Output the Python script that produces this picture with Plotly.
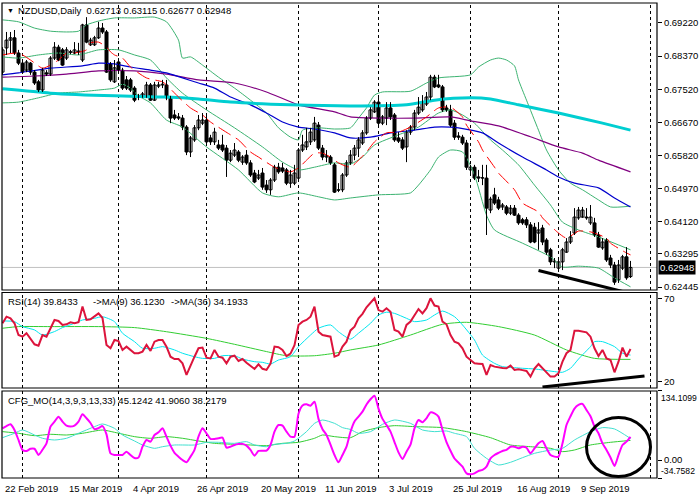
import plotly.graph_objects as go

# ---------------- data ----------------
title_symbol = "NZDUSD,Daily"
last_ohlc = [0.62713, 0.63115, 0.62677, 0.62948]

opens = [0.6796,0.6858,0.6878,0.6884,0.6845,0.6819,0.6801,0.6819,0.6796,0.6771,
         0.6750,0.6794,0.6791,0.6832,0.6860,0.6853,0.6832,0.6848,0.6845,0.6848,
         0.6827,0.6917,0.6866,0.6866,0.6884,0.6909,0.6899,0.6817,0.6771,0.6822,
         0.6801,0.6776,0.6776,0.6755,0.6735,0.6732,0.6732,0.6763,0.6724,0.6760,
         0.6763,0.6763,0.6730,0.6686,0.6681,0.6678,0.6655,0.6591,0.6622,0.6653,
         0.6665,0.6673,0.6627,0.6617,0.6609,0.6609,0.6601,0.6570,0.6583,0.6591,
         0.6565,0.6583,0.6563,0.6537,0.6524,0.6537,0.6506,0.6494,0.6519,0.6552,
         0.6550,0.6545,0.6511,0.6511,0.6524,0.6596,0.6604,0.6617,0.6622,0.6660,
         0.6601,0.6578,0.6578,0.6558,0.6494,0.6494,0.6532,0.6563,0.6583,0.6601,
         0.6614,0.6640,0.6678,0.6694,0.6719,0.6665,0.6678,0.6704,0.6686,0.6627,
         0.6622,0.6604,0.6642,0.6655,0.6691,0.6699,0.6714,0.6732,0.6783,0.6763,
         0.6758,0.6704,0.6699,0.6665,0.6632,0.6629,0.6614,0.6545,0.6552,0.6527,
         0.6524,0.6524,0.6442,0.6481,0.6468,0.6450,0.6450,0.6434,0.6447,0.6429,
         0.6417,0.6417,0.6404,0.6398,0.6383,0.6396,0.6365,0.6340,0.6309,0.6293,
         0.6309,0.6334,0.6360,0.6383,0.6422,0.6424,0.6424,0.6409,0.6409,0.6378,
         0.6345,0.6365,0.6319,0.6301,0.6263,0.6293,0.6322,0.62713]
highs = [0.6860,0.6899,0.6899,0.6904,0.6853,0.6827,0.6827,0.6822,0.6801,0.6776,
         0.6807,0.6801,0.6837,0.6873,0.6866,0.6858,0.6860,0.6853,0.6873,0.6871,
         0.6920,0.6937,0.6884,0.6889,0.6925,0.6922,0.6904,0.6822,0.6827,0.6832,
         0.6807,0.6786,0.6781,0.6760,0.6740,0.6745,0.6771,0.6768,0.6771,0.6771,
         0.6776,0.6776,0.6735,0.6699,0.6691,0.6686,0.6660,0.6632,0.6660,0.6686,
         0.6691,0.6691,0.6635,0.6653,0.6622,0.6635,0.6609,0.6596,0.6614,0.6596,
         0.6583,0.6596,0.6570,0.6545,0.6545,0.6550,0.6519,0.6524,0.6558,0.6563,
         0.6563,0.6550,0.6545,0.6558,0.6601,0.6635,0.6653,0.6653,0.6681,0.6668,
         0.6609,0.6596,0.6583,0.6563,0.6511,0.6537,0.6570,0.6596,0.6609,0.6629,
         0.6647,0.6683,0.6706,0.6724,0.6730,0.6686,0.6719,0.6719,0.6691,0.6642,
         0.6629,0.6647,0.6660,0.6699,0.6732,0.6737,0.6745,0.6789,0.6789,0.6789,
         0.6763,0.6712,0.6712,0.6673,0.6642,0.6635,0.6622,0.6558,0.6558,0.6545,
         0.6558,0.6558,0.6476,0.6499,0.6476,0.6460,0.6455,0.6455,0.6455,0.6434,
         0.6422,0.6424,0.6411,0.6409,0.6411,0.6404,0.6370,0.6345,0.6319,0.6319,
         0.6345,0.6370,0.6388,0.6447,0.6450,0.6450,0.6447,0.6455,0.6422,0.6386,
         0.6370,0.6370,0.6327,0.6309,0.6314,0.6327,0.6347,0.63115]
lows = [0.6789,0.6840,0.6845,0.6840,0.6814,0.6794,0.6796,0.6789,0.6763,0.6745,
        0.6745,0.6786,0.6786,0.6827,0.6824,0.6812,0.6827,0.6842,0.6842,0.6840,
        0.6822,0.6870,0.6863,0.6863,0.6881,0.6894,0.6794,0.6771,0.6768,0.6796,
        0.6750,0.6750,0.6745,0.6719,0.6724,0.6730,0.6730,0.6722,0.6722,0.6755,
        0.6755,0.6724,0.6665,0.6673,0.6673,0.6647,0.6583,0.6578,0.6617,0.6647,
        0.6660,0.6614,0.6609,0.6609,0.6596,0.6591,0.6527,0.6565,0.6578,0.6565,
        0.6558,0.6558,0.6527,0.6511,0.6519,0.6494,0.6486,0.6481,0.6514,0.6535,
        0.6537,0.6506,0.6499,0.6506,0.6519,0.6591,0.6596,0.6609,0.6617,0.6596,
        0.6570,0.6565,0.6558,0.6486,0.6488,0.6488,0.6527,0.6558,0.6570,0.6578,
        0.6609,0.6635,0.6673,0.6691,0.6660,0.6660,0.6660,0.6673,0.6617,0.6614,
        0.6596,0.6565,0.6635,0.6647,0.6686,0.6694,0.6709,0.6724,0.6755,0.6755,
        0.6694,0.6694,0.6655,0.6622,0.6622,0.6609,0.6545,0.6532,0.6519,0.6514,
        0.6506,0.6378,0.6434,0.6455,0.6442,0.6442,0.6429,0.6429,0.6427,0.6404,
        0.6404,0.6396,0.6357,0.6357,0.6340,0.6352,0.6327,0.6301,0.6293,0.6288,
        0.6288,0.6332,0.6355,0.6378,0.6417,0.6422,0.6417,0.6404,0.6373,0.6345,
        0.6340,0.6309,0.6293,0.6250,0.6255,0.6288,0.6263,0.62677]
closes = [0.6853,0.6878,0.6884,0.6845,0.6819,0.6796,0.6822,0.6796,0.6768,0.6750,
          0.6801,0.6791,0.6832,0.6860,0.6827,0.6814,0.6853,0.6847,0.6853,0.6850,
          0.6917,0.6873,0.6878,0.6884,0.6909,0.6899,0.6796,0.6776,0.6807,0.6801,
          0.6755,0.6755,0.6750,0.6724,0.6732,0.6740,0.6763,0.6724,0.6763,0.6763,
          0.6765,0.6730,0.6678,0.6678,0.6678,0.6655,0.6591,0.6627,0.6653,0.6673,
          0.6673,0.6617,0.6617,0.6642,0.6601,0.6596,0.6570,0.6588,0.6596,0.6570,
          0.6578,0.6563,0.6532,0.6514,0.6532,0.6501,0.6494,0.6519,0.6552,0.6540,
          0.6542,0.6511,0.6532,0.6537,0.6596,0.6609,0.6617,0.6642,0.6665,0.6601,
          0.6578,0.6581,0.6563,0.6488,0.6493,0.6532,0.6563,0.6583,0.6601,0.6622,
          0.6640,0.6678,0.6699,0.6719,0.6665,0.6681,0.6704,0.6681,0.6622,0.6619,
          0.6601,0.6642,0.6655,0.6691,0.6706,0.6719,0.6732,0.6783,0.6758,0.6758,
          0.6699,0.6699,0.6660,0.6629,0.6629,0.6614,0.6552,0.6552,0.6524,0.6524,
          0.6525,0.6447,0.6470,0.6460,0.6447,0.6455,0.6434,0.6447,0.6429,0.6409,
          0.6409,0.6404,0.6360,0.6360,0.6391,0.6360,0.6334,0.6309,0.6311,0.6309,
          0.6340,0.6360,0.6373,0.6424,0.6442,0.6442,0.6422,0.6424,0.6378,0.6347,
          0.6360,0.6314,0.6301,0.6257,0.6301,0.6322,0.6268,0.62948]

date_label_bars = [0, 16, 32, 48, 64, 80, 96, 112, 128, 144]
date_labels = ["22 Feb 2019", "15 Mar 2019", "4 Apr 2019", "26 Apr 2019", "20 May 2019",
               "11 Jun 2019", "3 Jul 2019", "25 Jul 2019", "16 Aug 2019", "9 Sep 2019"]
grid_bars = [5, 29, 51, 74, 94, 117, 139, 162]
price_ticks = [0.69220, 0.68370, 0.67520, 0.66670, 0.65820, 0.64970, 0.64120, 0.63295, 0.62445]

# main-panel indicator lines
ma200_bar = [0,12,28,41,49,57,72,87,101,108,117,122,129,139,150,157]
ma200_val = [0.6753,0.6742,0.6735,0.6732,0.6727,0.6719,0.6712,0.6709,0.6712,0.6724,
             0.6730,0.6727,0.6712,0.6691,0.6665,0.6647]
ma_blue_bar = [0,4,12,20,24,28,32,37,41,45,49,53,57,62,66,70,74,78,83,87,92,97,103,108,
               112,114,120,124,130,136,139,143,149,153,157]
ma_blue_val = [0.6789,0.6794,0.6806,0.6812,0.6819,0.6817,0.6809,0.6801,0.6794,0.6781,
               0.6768,0.6755,0.6732,0.6712,0.6691,0.6668,0.6655,0.6650,0.6640,0.6627,
               0.6629,0.6640,0.6647,0.6655,0.6655,0.6653,0.6640,0.6614,0.6578,0.6545,
               0.6527,0.6511,0.6499,0.6473,0.6450]
ma_purple_bar = [0,8,16,24,33,41,49,58,66,74,83,87,95,103,112,117,124,132,139,145,149,157]
ma_purple_val = [0.6783,0.6786,0.6791,0.6799,0.6799,0.6791,0.6776,0.6768,0.6745,0.6712,
                 0.6694,0.6681,0.6678,0.6678,0.6681,0.6671,0.6658,0.6630,0.6604,0.6588,
                 0.6570,0.6540]
ma_red_bar = [0,4,7,10,12,14,16,18,21,22,24,26,27,28,30,32,36,40,41,44,47,50,52,57,59,62,
              64,68,72,74,76,78,80,82,84,87,89,91,93,96,99,102,106,109,112,115,116,119,120,
              123,124,128,130,134,135,139,141,144,147,148,151,152,156,157]
ma_red_val = [0.6840,0.6845,0.6827,0.6806,0.6814,0.6827,0.6845,0.6845,0.6853,0.6871,
              0.6873,0.6860,0.6848,0.6840,0.6832,0.6809,0.6781,0.6771,0.6763,0.6732,
              0.6704,0.6686,0.6668,0.6635,0.6622,0.6591,0.6578,0.6552,0.6540,0.6550,
              0.6570,0.6588,0.6588,0.6578,0.6563,0.6552,0.6570,0.6591,0.6617,0.6640,
              0.6642,0.6655,0.6681,0.6704,0.6706,0.6681,0.6660,0.6617,0.6596,0.6552,
              0.6537,0.6494,0.6460,0.6437,0.6422,0.6383,0.6370,0.6388,0.6386,0.6383,
              0.6370,0.6357,0.6332,0.6327]
bb_up_bar = [0,4,8,12,16,19,21,24,28,33,38,41,44,45,47,50,54,58,62,66,69,72,74,75,79,83,
             87,89,91,93,95,102,106,109,117,119,122,124,126,128,129,131,134,136,139,142,
             145,149,152,157]
bb_up_val = [0.6930,0.6925,0.6909,0.6901,0.6899,0.6901,0.6917,0.6927,0.6935,0.6935,
             0.6937,0.6925,0.6878,0.6832,0.6835,0.6814,0.6783,0.6755,0.6724,0.6691,
             0.6653,0.6629,0.6622,0.6647,0.6653,0.6650,0.6653,0.6678,0.6704,0.6737,
             0.6745,0.6747,0.6768,0.6781,0.6789,0.6809,0.6827,0.6832,0.6827,0.6812,
             0.6776,0.6724,0.6647,0.6596,0.6545,0.6511,0.6494,0.6468,0.6450,0.6452]
bb_mid_bar = [0,4,9,14,19,24,29,33,37,41,45,51,58,65,70,74,78,83,87,90,93,99,104,109,112,
              115,118,122,125,129,133,137,140,144,149,157]
bb_mid_val = [0.6835,0.6832,0.6840,0.6845,0.6840,0.6853,0.6853,0.6840,0.6827,0.6781,
              0.6742,0.6699,0.6653,0.6604,0.6565,0.6545,0.6552,0.6563,0.6560,0.6578,
              0.6609,0.6635,0.6655,0.6691,0.6699,0.6686,0.6665,0.6622,0.6596,0.6558,
              0.6506,0.6455,0.6411,0.6391,0.6373,0.6340]
bb_low_bar = [0,4,9,14,19,24,28,30,32,34,37,41,45,51,59,65,69,74,79,83,87,94,102,104,107,
              109,112,115,118,121,123,130,137,140,144,149,153,157]
bb_low_val = [0.6717,0.6719,0.6730,0.6742,0.6745,0.6750,0.6755,0.6765,0.6755,0.6735,
              0.6717,0.6673,0.6655,0.6604,0.6545,0.6486,0.6476,0.6486,0.6476,0.6468,
              0.6473,0.6481,0.6486,0.6506,0.6545,0.6578,0.6596,0.6591,0.6532,0.6429,
              0.6391,0.6357,0.6322,0.6296,0.6298,0.6293,0.6268,0.6245]
trend_main_bar = [134, 157]
trend_main_val = [0.6287, 0.6228]

# RSI panel
rsi_title = ["RSI(14) 39.8433", "->MA(9) 36.1230", "->MA(36) 34.1933"]
rsi_vals = [55.3,59.3,58.3,55.3,48.2,47.2,49.3,46.2,42.6,41.8,
            48.2,47.2,52.3,57.3,56.7,54.3,54.7,55.9,55.3,56.0,
            65.4,57.3,57.7,59.3,61.3,58.5,42.2,40.2,45.2,44.5,
            39.2,41.2,39.2,37.2,37.2,38.2,42.2,38.6,44.2,45.2,
            45.2,41.2,35.1,33.7,33.7,31.1,24.1,30.1,35.1,40.2,
            40.6,34.5,34.1,39.2,35.1,34.5,31.1,35.1,35.7,32.5,
            33.7,31.5,29.5,27.7,30.5,27.8,27.1,31.0,41.2,40.8,
            39.2,35.5,37.0,42.0,54.3,56.3,57.3,59.3,65.4,50.2,
            48.2,47.5,47.2,35.1,36.1,41.2,44.2,51.0,53.3,58.3,
            61.0,65.0,67.4,70.4,63.3,62.3,64.4,62.3,51.3,50.3,
            47.2,54.3,56.3,60.3,63.9,61.3,64.4,70.4,66.0,65.4,
            56.3,54.7,48.2,44.2,43.2,40.2,35.1,33.1,31.1,30.9,
            30.7,24.1,30.1,29.1,28.5,28.3,28.1,29.7,27.1,27.5,
            27.0,26.5,23.1,28.0,30.7,28.1,25.1,23.1,23.1,25.1,
            32.1,37.2,39.2,50.8,50.8,50.3,49.8,47.2,40.2,35.5,
            39.2,34.1,33.1,25.7,32.1,40.6,35.1,39.8]
rsi_ma9_bar = [0,3,5,8,10,13,15,18,20,23,25,28,30,33,35,38,40,43,45,48,50,53,55,58,60,63,
               65,67,69,72,74,77,79,82,84,87,89,92,94,96,98,101,103,106,108,110,113,115,
               118,120,123,125,128,130,133,135,138,140,142,144,147,148,150,153,155,157]
rsi_ma9_val = [56.7,56.3,53.3,51.3,48.2,50.3,52.7,55.3,57.3,58.3,
               59.3,56.3,49.3,44.2,40.2,40.2,41.2,39.2,37.2,35.1,
               34.1,34.1,35.7,35.7,33.7,32.1,31.7,30.7,33.1,35.1,
               41.2,48.2,52.3,54.3,50.2,45.7,49.3,55.3,60.3,62.0,
               61.3,58.3,56.3,57.3,60.3,62.7,59.3,54.3,45.2,36.1,
               31.1,29.1,28.5,28.1,27.7,27.1,26.1,25.7,28.1,33.7,
               41.2,44.2,44.2,41.2,37.2,36.1]
rsi_ma36_bar = [0,4,12,24,33,41,51,58,66,71,78,83,87,94,102,110,116,124,133,141,148,157]
rsi_ma36_val = [52.3,53.3,53.3,53.3,52.7,50.2,46.2,42.6,38.2,35.7,35.7,37.2,39.2,42.2,
                48.2,54.7,55.9,53.3,48.2,39.2,34.1,33.5]
rsi_levels = [70, 20]
trend_rsi_bar = [135, 160.5]
trend_rsi_val = [16.8, 23.4]

# CFG_MO panel
mo_title = "CFG_MO(14,3,9,3,13,33) 45.1242 41.9060 38.2179"
mo_max, mo_min = 134.1099, -34.7582
mo_vals = [61.6,66.0,69.4,58.4,39.0,19.6,17.7,22.0,22.0,10.0,
           20.0,32.5,64.9,74.6,84.3,74.6,66.8,65.0,67.0,74.6,
           88.8,81.1,72.0,60.0,62.0,66.0,50.0,13.1,10.0,10.0,
           10.0,16.4,10.0,4.0,5.0,26.0,39.0,35.8,48.7,53.9,
           61.6,45.5,28.0,14.0,6.7,0.2,-4.3,6.7,20.0,45.5,
           61.6,52.0,41.0,41.0,42.3,43.5,24.1,26.0,29.3,31.0,
           31.5,28.0,19.6,8.6,17.7,18.3,18.3,29.3,55.2,68.1,
           66.8,55.2,45.5,45.5,90.0,106.0,108.2,105.6,113.4,80.0,
           60.0,48.7,30.0,9.9,-4.3,9.9,26.0,55.0,75.0,84.3,
           94.0,108.0,118.0,125.1,100.0,80.0,68.0,55.2,35.0,15.0,
           2.1,16.4,30.0,61.6,77.8,73.3,81.1,92.7,90.8,84.3,
           58.4,35.0,18.0,3.0,-5.0,-12.8,-25.7,-27.6,-25.7,-21.2,
           -19.2,-12.8,3.4,9.9,14.0,17.7,20.0,26.0,26.0,22.8,
           26.0,24.0,13.1,22.8,32.5,37.1,22.8,9.9,6.7,6.7,
           32.5,68.1,85.0,100.0,107.0,108.9,97.2,85.0,65.0,52.0,
           32.5,19.6,5.0,-11.5,9.9,29.3,35.8,45.1]
mo_sig_bar = [0,3,5,8,10,13,16,19,23,25,28,30,33,35,38,40,43,45,48,51,54,58,61,63,66,68,
              71,73,76,78,80,83,85,87,89,92,95,98,102,105,108,111,113,116,118,121,124,127,
              130,133,137,140,143,147,150,153,157]
mo_sig_val = [43.5,52,58.4,48.7,42.3,39,42.3,52,64.9,70.1,
              61.6,48.7,37.1,29.3,22.8,26,29.3,29.3,29.3,34.5,
              34.5,32.5,35.8,29.3,26,30.6,32.5,37.1,55.2,71.3,
              77.8,71.3,63,59.4,52,55.2,69.4,77.8,71.3,58.4,
              55.2,56.5,52,45.5,22.8,3.4,-9.5,-4.3,4.7,13.1,
              19.6,22.8,39,55.2,63,60.4,41.9]
mo_slow_bar = [0,4,8,12,16,20,25,28,33,37,41,45,49,53,58,62,66,70,74,78,80,83,87,90,94,98,
               103,110,116,122,127,132,137,140,143,147,152,157]
mo_slow_val = [55.2,52,47.4,50,48.7,52,58.4,53.9,45.5,42.3,
               45.5,42.3,37.1,32.5,30.6,29.3,28,32.5,34.5,42.3,
               48.7,45.5,43.5,55.2,63,66.8,64.9,63,55.2,43.5,
               29.3,26,22.8,16.4,19.6,29.3,34.5,38.2]
circle_bar = [146, 162]
circle_val = [-31.8, 82.7]

# ---------------- figure ----------------
FONT = "Liberation Sans, Arial, sans-serif"
W, H = 700, 500
ML, MR, MT, MB = 2, 43, 3, 22
PW = W - ML - MR
X_RANGE = [-0.125, 163.625]
D_MAIN = [0.3958, 1.0]
D_RSI = [0.1895, 0.3905]
D_MO = [0.0, 0.1832]
Y_MAIN = [0.62369, 0.69733]
Y_RSI = [16.2, 73.9]

fig = go.Figure()


def add_line(xs, ys, color, width, ax="", dash=None, shape="spline"):
    fig.add_trace(go.Scatter(
        x=xs, y=ys, mode="lines",
        line=dict(color=color, width=width, dash=dash, shape=shape,
                  smoothing=0.6 if shape == "spline" else None),
        xaxis="x" + ax, yaxis="y" + ax, hoverinfo="skip", showlegend=False))


# main panel indicators
add_line(bb_up_bar, bb_up_val, "#3cb371", 1)
add_line(bb_mid_bar, bb_mid_val, "#3cb371", 1)
add_line(bb_low_bar, bb_low_val, "#3cb371", 1)
add_line(ma_purple_bar, ma_purple_val, "#800080", 1.2)
add_line(ma_blue_bar, ma_blue_val, "#0000cd", 1.2)
add_line(ma200_bar, ma200_val, "#00ced1", 3)
add_line(ma_red_bar, ma_red_val, "#ff0000", 1, dash="14px,6px")

# candles
bars = list(range(len(closes)))
wx, wy = [], []
for i in bars:
    wx += [i, i, None]
    wy += [lows[i], highs[i], None]
add_line(wx, wy, "black", 1, shape="linear")

min_body = 0.00004
for bull in (True, False):
    idx = [i for i in bars if (closes[i] >= opens[i]) == bull]
    base = [min(opens[i], closes[i]) for i in idx]
    hgt = [max(abs(closes[i] - opens[i]), min_body) for i in idx]
    fig.add_trace(go.Bar(
        x=idx, y=hgt, base=base, width=0.75,
        marker=dict(color="white" if bull else "black",
                    line=dict(color="black", width=1)),
        xaxis="x", yaxis="y", hoverinfo="skip", showlegend=False))

add_line(trend_main_bar, trend_main_val, "black", 3, shape="linear")

# RSI panel
add_line(rsi_ma36_bar, rsi_ma36_val, "#32cd32", 1, ax="2")
add_line(rsi_ma9_bar, rsi_ma9_val, "#00e5ee", 1, ax="2")
add_line(bars, rsi_vals, "#dc143c", 2, ax="2", shape="linear")
add_line(trend_rsi_bar, trend_rsi_val, "black", 3, ax="2", shape="linear")

# MO panel
add_line(mo_slow_bar, mo_slow_val, "#32cd32", 1, ax="3")
add_line(mo_sig_bar, mo_sig_val, "#40e0d0", 1, ax="3")
add_line(bars, mo_vals, "#ff00ff", 2, ax="3")

shapes = []
# current price line
shapes.append(dict(type="line", xref="x domain", yref="y", x0=0, x1=1,
                   y0=closes[-1], y1=closes[-1], line=dict(color="#c0c0c0", width=1),
                   layer="below"))
# vertical grid lines and panel frames
for ax in ("", "2", "3"):
    for g in grid_bars:
        shapes.append(dict(type="line", xref="x" + ax, yref="y%s domain" % ax,
                           x0=g, x1=g, y0=0, y1=1,
                           line=dict(color="black", width=1, dash="3px,3px"),
                           layer="below"))
    shapes.append(dict(type="rect", xref="x%s domain" % ax, yref="y%s domain" % ax,
                       x0=0, x1=1, y0=0, y1=1, line=dict(color="black", width=1.2)))
# circle in MO panel
shapes.append(dict(type="circle", xref="x3", yref="y3",
                   x0=circle_bar[0], x1=circle_bar[1], y0=circle_val[0], y1=circle_val[1],
                   line=dict(color="black", width=3)))


def px_x(p):
    return (p - ML) / PW


def px_y(p):
    return (H - MB - p) / (H - MT - MB)


ann = []
tfont = dict(family=FONT, size=9.5, color="black")
sfont = dict(family=FONT, size=8.6, color="black")
ann.append(dict(xref="paper", yref="paper", x=px_x(5), y=px_y(10), text="▼",
                showarrow=False, xanchor="left", yanchor="middle",
                font=dict(family=FONT, size=7, color="black")))
ann.append(dict(xref="paper", yref="paper", x=px_x(16), y=px_y(10),
                text=title_symbol + "  " + " ".join("%.5f" % v for v in last_ohlc),
                showarrow=False, xanchor="left", yanchor="middle", font=tfont))
for t, xp in zip(rsi_title, (6, 91, 169)):
    ann.append(dict(xref="paper", yref="paper", x=px_x(xp), y=px_y(301), text=t,
                    showarrow=False, xanchor="left", yanchor="middle", font=tfont))
ann.append(dict(xref="paper", yref="paper", x=px_x(6), y=px_y(400), text=mo_title,
                showarrow=False, xanchor="left", yanchor="middle", font=tfont))
for b, lab in zip(date_label_bars, date_labels):
    ann.append(dict(xref="x3", yref="paper", x=b, y=px_y(489), text=lab,
                    showarrow=False, xanchor="left", yanchor="middle",
                    font=dict(family=FONT, size=9.5, color="black")))
# current price tag
ann.append(dict(xref="paper", yref="y", x=1.002, y=closes[-1], text="%.5f" % closes[-1],
                showarrow=False, xanchor="left", yanchor="middle", bgcolor="black",
                borderpad=1, font=dict(family=FONT, size=9.5, color="white")))
# MO max/min labels
ann.append(dict(xref="paper", yref="y3", x=px_x(659), y=mo_max, text="%.4f" % mo_max,
                showarrow=False, xanchor="left", yanchor="top", font=sfont))
ann.append(dict(xref="paper", yref="y3", x=px_x(659), y=mo_min, text="%.4f" % mo_min,
                showarrow=False, xanchor="left", yanchor="bottom", font=sfont))

axis_common = dict(showgrid=False, zeroline=False, showline=False, fixedrange=True)
yax_common = dict(axis_common, side="right", ticks="outside", ticklen=4,
                  tickcolor="black", tickfont=tfont)

fig.update_layout(
    width=W, height=H, autosize=False,
    margin=dict(l=ML, r=MR, t=MT, b=MB, pad=0),
    paper_bgcolor="white", plot_bgcolor="white",
    barmode="overlay", showlegend=False,
    font=dict(family=FONT, size=9.5, color="black"),
    xaxis=dict(axis_common, domain=[0, 1], range=X_RANGE, anchor="y",
               showticklabels=False, ticks=""),
    xaxis2=dict(axis_common, domain=[0, 1], range=X_RANGE, anchor="y2", matches="x",
                showticklabels=False, ticks=""),
    xaxis3=dict(axis_common, domain=[0, 1], range=X_RANGE, anchor="y3", matches="x",
                showticklabels=False, ticks=""),
    yaxis=dict(yax_common, domain=D_MAIN, range=Y_MAIN, anchor="x",
               tickvals=price_ticks, ticktext=["%.5f" % v for v in price_ticks]),
    yaxis2=dict(yax_common, domain=D_RSI, range=Y_RSI, anchor="x2",
                tickvals=rsi_levels, ticktext=[str(v) for v in rsi_levels]),
    yaxis3=dict(yax_common, domain=D_MO, range=[mo_min, mo_max], anchor="x3",
                tickvals=[mo_max, 0, mo_min], ticktext=["", "0.00", ""]),
    shapes=shapes, annotations=ann,
)

fig.write_html(
    "out.html",
    config={"displayModeBar": False, "staticPlot": True},
    post_script="document.body.style.margin='0';document.body.style.padding='0';"
                "document.documentElement.style.overflow='hidden';",
)
